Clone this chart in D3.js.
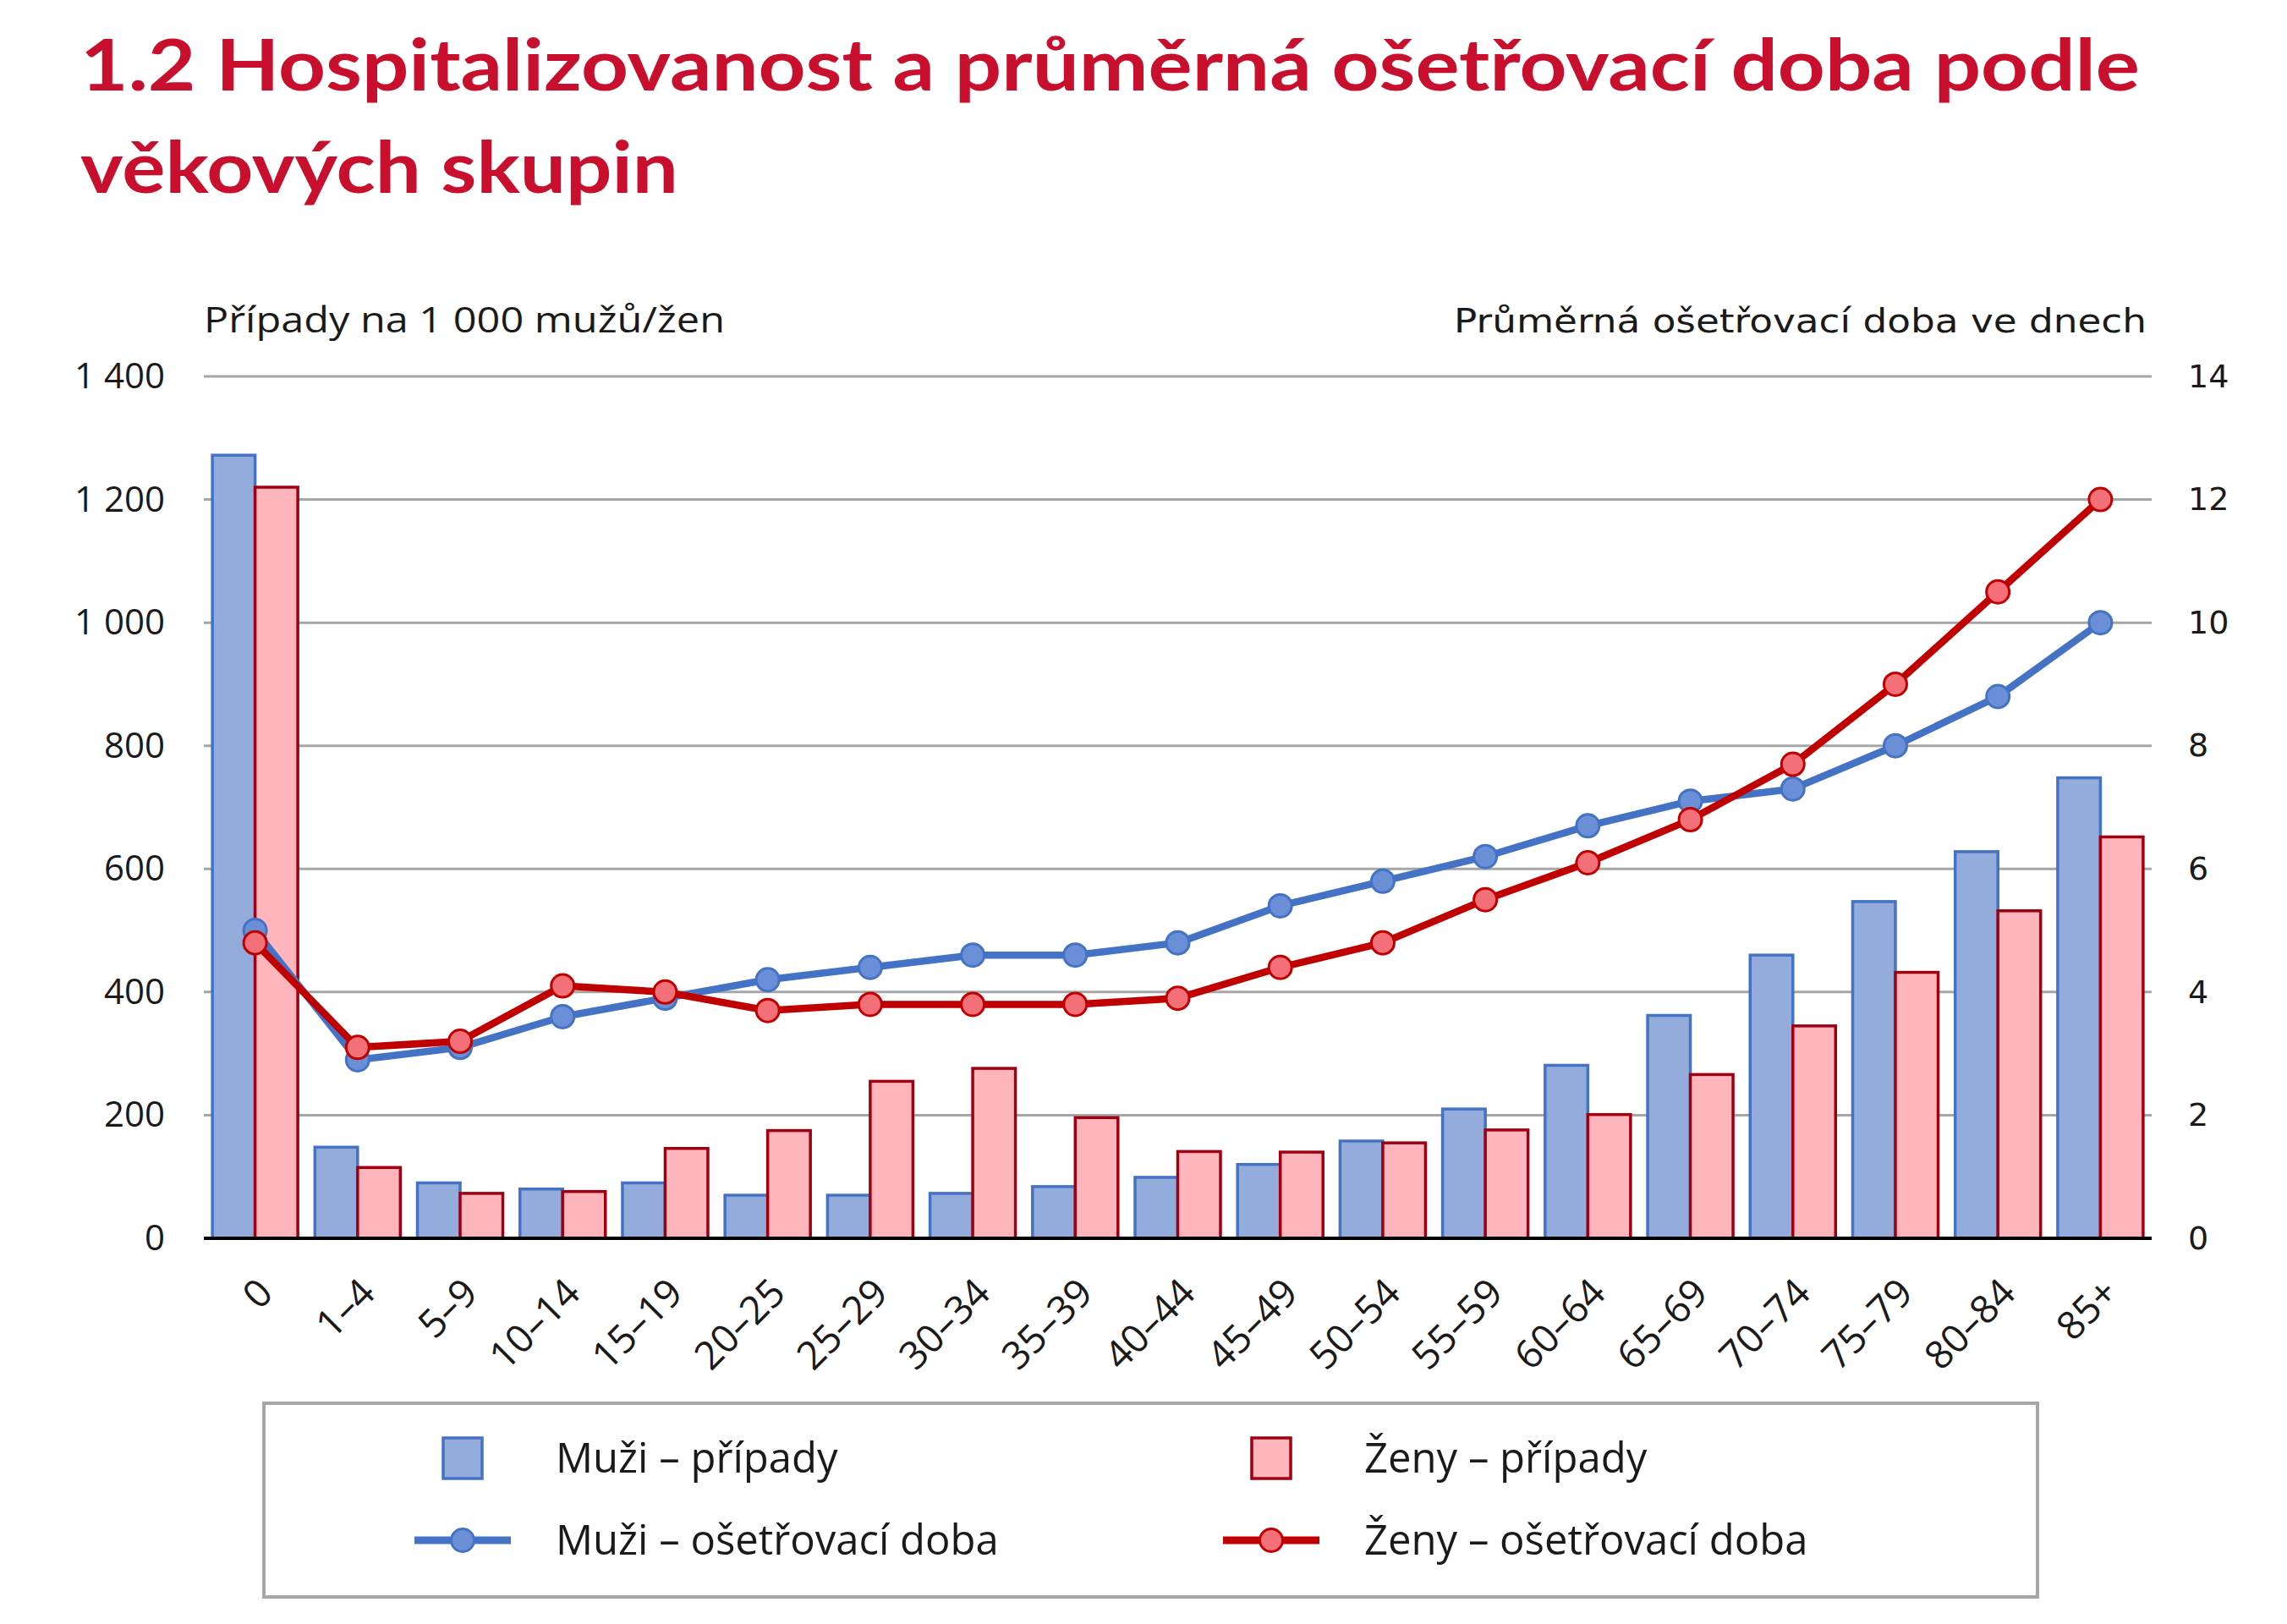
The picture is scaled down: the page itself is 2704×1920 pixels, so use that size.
<!DOCTYPE html>
<html>
<head>
    <meta charset="utf-8">
    <title>Hospitalizovanost</title>
    <script src="https://d3js.org/d3.v7.min.js"></script>
    <style>
        body {
            margin: 0;
            padding: 0;
            background-color: #ffffff;
        }
        .title {
            font-family: Lato, "Open Sans", sans-serif;
            font-weight: bold;
            fill: #c8102e;
        }
        .axis-title, .legend-text, .xlab, .ltick {
            font-family: "Open Sans", sans-serif;
            fill: #1a1a1a;
        }
        .rtick, .rtitle {
            font-family: "DejaVu Sans", sans-serif;
            fill: #1a1a1a;
        }
    </style>
</head>
<body>
    <div id="chart"></div>

    <script>
        // data
        var categories = ["0", "1–4", "5–9", "10–14", "15–19", "20–25", "25–29", "30–34", "35–39", "40–44",
            "45–49", "50–54", "55–59", "60–64", "65–69", "70–74", "75–79", "80–84", "85+"];
        var muziPripady = [1272, 148, 90, 80, 90, 70, 70, 73, 84, 99, 120, 158, 210, 281, 362, 460, 547, 628, 748];
        var zenyPripady = [1220, 115, 73, 76, 146, 175, 255, 276, 196, 141, 140, 155, 176, 201, 266, 345, 432, 532, 652];
        var muziDoba = [5.0, 2.9, 3.1, 3.6, 3.9, 4.2, 4.4, 4.6, 4.6, 4.8, 5.4, 5.8, 6.2, 6.7, 7.1, 7.3, 8.0, 8.8, 10.0];
        var zenyDoba = [4.8, 3.1, 3.2, 4.1, 4.0, 3.7, 3.8, 3.8, 3.8, 3.9, 4.4, 4.8, 5.5, 6.1, 6.8, 7.7, 9.0, 10.5, 12.0];
        var leftTicks = [0, 200, 400, 600, 800, 1000, 1200, 1400];
        var rightTicks = [0, 2, 4, 6, 8, 10, 12, 14];

        var W = 2704, H = 1920;
        var plot = { left: 241, right: 2544, top: 445, bottom: 1464 };

        var blueLine = "#4472c4", blueFill = "#94acdc", blueDot = "#6b8fd6";
        var redLine = "#c00000", redBar = "#9e0012", redFill = "#ffb5bc", redDot = "#f47078";

        var svg = d3.select("#chart")
            .append("svg")
            .attr("width", W)
            .attr("height", H)
            .style("display", "block");

        svg.append("rect").attr("width", W).attr("height", H).attr("fill", "#fff");

        // title
        svg.append("text")
            .attr("class", "title")
            .attr("x", 95).attr("y", 107)
            .attr("font-size", 84)
            .attr("textLength", 2435)
            .attr("lengthAdjust", "spacingAndGlyphs")
            .text("1.2 Hospitalizovanost a průměrná ošetřovací doba podle");
        svg.append("text")
            .attr("class", "title")
            .attr("x", 95).attr("y", 228)
            .attr("font-size", 84)
            .attr("textLength", 707)
            .attr("lengthAdjust", "spacingAndGlyphs")
            .text("věkových skupin");

        // scales
        var x = d3.scaleBand().domain(categories).range([plot.left, plot.right]).padding(0);
        var xs = d3.scaleBand().domain(["m", "z"]).range([0, x.bandwidth()]).paddingInner(0).paddingOuter(0.2);
        var yL = d3.scaleLinear().domain([0, 1400]).range([plot.bottom, plot.top]);
        var yR = d3.scaleLinear().domain([0, 14]).range([plot.bottom, plot.top]);

        // gridlines
        svg.append("g")
            .selectAll("line")
            .data(leftTicks.filter(function (d) { return d > 0; }))
            .enter().append("line")
            .attr("x1", plot.left).attr("x2", plot.right)
            .attr("y1", function (d) { return yL(d); })
            .attr("y2", function (d) { return yL(d); })
            .attr("stroke", "#a6a6a6")
            .attr("stroke-width", 3);

        // left axis
        var leftAxis = svg.append("g")
            .attr("transform", "translate(" + plot.left + ",0)")
            .call(d3.axisLeft(yL).tickValues(leftTicks).tickSize(0).tickPadding(46)
                .tickFormat(function (d) { return d3.format(",")(d).replace(",", " "); }));
        leftAxis.select(".domain").remove();
        leftAxis.selectAll("text")
            .attr("class", "ltick")
            .attr("font-size", 42)
            .attr("fill", "#1a1a1a");

        // right axis
        var rightAxis = svg.append("g")
            .attr("transform", "translate(" + plot.right + ",0)")
            .call(d3.axisRight(yR).tickValues(rightTicks).tickSize(0).tickPadding(43));
        rightAxis.select(".domain").remove();
        rightAxis.selectAll("text")
            .attr("class", "rtick")
            .attr("font-size", 38)
            .attr("fill", "#1a1a1a");

        // axis titles
        svg.append("text")
            .attr("class", "axis-title")
            .attr("x", plot.left).attr("y", 393)
            .attr("font-size", 42)
            .attr("textLength", 616)
            .attr("lengthAdjust", "spacingAndGlyphs")
            .text("Případy na 1 000 mužů/žen");
        svg.append("text")
            .attr("class", "rtitle")
            .attr("x", 2538).attr("y", 393)
            .attr("font-size", 39)
            .attr("text-anchor", "end")
            .attr("textLength", 819)
            .attr("lengthAdjust", "spacingAndGlyphs")
            .text("Průměrná ošetřovací doba ve dnech");

        // bars
        var groups = svg.append("g")
            .selectAll("g")
            .data(categories)
            .enter().append("g")
            .attr("transform", function (d) { return "translate(" + x(d) + ",0)"; });

        groups.append("rect")
            .attr("x", xs("m"))
            .attr("width", xs.bandwidth())
            .attr("y", function (d, i) { return yL(muziPripady[i]); })
            .attr("height", function (d, i) { return yL(0) - yL(muziPripady[i]); })
            .attr("fill", blueFill)
            .attr("stroke", blueLine)
            .attr("stroke-width", 3.5);

        groups.append("rect")
            .attr("x", xs("z"))
            .attr("width", xs.bandwidth())
            .attr("y", function (d, i) { return yL(zenyPripady[i]); })
            .attr("height", function (d, i) { return yL(0) - yL(zenyPripady[i]); })
            .attr("fill", redFill)
            .attr("stroke", redBar)
            .attr("stroke-width", 3.5);

        // baseline
        svg.append("line")
            .attr("x1", plot.left).attr("x2", plot.right)
            .attr("y1", yL(0)).attr("y2", yL(0))
            .attr("stroke", "#000")
            .attr("stroke-width", 4);

        // x labels
        svg.append("g")
            .selectAll("text")
            .data(categories)
            .enter().append("text")
            .attr("class", "xlab")
            .attr("font-size", 46)
            .attr("text-anchor", "end")
            .attr("transform", function (d) {
                return "translate(" + (x(d) + x.bandwidth() / 2 + 12) + "," + (yL(0) + 56) + ") rotate(-45)";
            })
            .attr("dy", "0.35em")
            .text(function (d) { return d; });

        // lines
        var cx = function (d, i) { return x(categories[i]) + x.bandwidth() / 2; };

        function drawLine(values, stroke, dot) {
            var line = d3.line()
                .x(function (d, i) { return cx(d, i); })
                .y(function (d) { return yR(d); });
            svg.append("path")
                .datum(values)
                .attr("d", line)
                .attr("fill", "none")
                .attr("stroke", stroke)
                .attr("stroke-width", 8.5)
                .attr("stroke-linejoin", "round");
            svg.append("g")
                .selectAll("circle")
                .data(values)
                .enter().append("circle")
                .attr("cx", function (d, i) { return cx(d, i); })
                .attr("cy", function (d) { return yR(d); })
                .attr("r", 13.5)
                .attr("fill", dot)
                .attr("stroke", stroke)
                .attr("stroke-width", 3);
        }
        drawLine(muziDoba, blueLine, blueDot);
        drawLine(zenyDoba, redLine, redDot);

        // legend
        var legend = svg.append("g");
        legend.append("rect")
            .attr("x", 312).attr("y", 1659)
            .attr("width", 2097).attr("height", 229)
            .attr("fill", "#fff")
            .attr("stroke", "#a6a6a6")
            .attr("stroke-width", 4);

        var legendItems = [
            { label: "Muži – případy", type: "bar", fill: blueFill, stroke: blueLine, x: 547, y: 1724 },
            { label: "Ženy – případy", type: "bar", fill: redFill, stroke: redBar, x: 1503, y: 1724 },
            { label: "Muži – ošetřovací doba", type: "line", fill: blueDot, stroke: blueLine, x: 547, y: 1821 },
            { label: "Ženy – ošetřovací doba", type: "line", fill: redDot, stroke: redLine, x: 1503, y: 1821 }
        ];

        legendItems.forEach(function (it) {
            if (it.type === "bar") {
                legend.append("rect")
                    .attr("x", it.x - 23).attr("y", it.y - 24)
                    .attr("width", 46).attr("height", 48)
                    .attr("fill", it.fill)
                    .attr("stroke", it.stroke)
                    .attr("stroke-width", 3.5);
            } else {
                legend.append("line")
                    .attr("x1", it.x - 57).attr("x2", it.x + 57)
                    .attr("y1", it.y).attr("y2", it.y)
                    .attr("stroke", it.stroke)
                    .attr("stroke-width", 9);
                legend.append("circle")
                    .attr("cx", it.x).attr("cy", it.y)
                    .attr("r", 13.5)
                    .attr("fill", it.fill)
                    .attr("stroke", it.stroke)
                    .attr("stroke-width", 3);
            }
            legend.append("text")
                .attr("class", "legend-text")
                .attr("x", it.x + 110).attr("y", it.y)
                .attr("dy", "0.35em")
                .attr("font-size", 49)
                .text(it.label);
        });
    </script>
</body>
</html>
